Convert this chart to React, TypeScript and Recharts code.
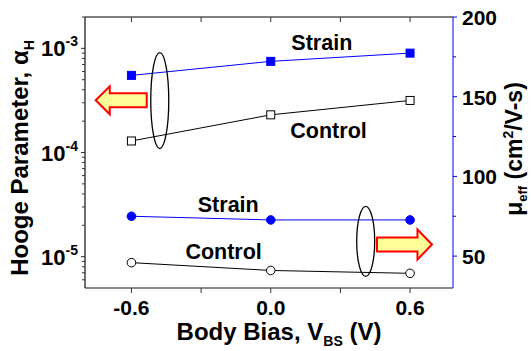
import { ComposedChart, Line, XAxis, YAxis, ReferenceDot, Label } from 'recharts';

const bias = [-0.6, 0, 0.6];
const alphaStrain = [5.5e-4, 7.5e-4, 9.0e-4];
const alphaControl = [1.29e-4, 2.3e-4, 3.16e-4];
const muStrain = [75, 72.7, 72.7];
const muControl = [45.9, 41, 39.2];

const xTicks = [-0.6, -0.3, 0, 0.3, 0.6];
const xMajor = ['-0.6', '0.0', '0.6'];
const alphaTicks = [
  6e-6, 7e-6, 8e-6, 9e-6, 1e-5, 2e-5, 3e-5, 4e-5, 5e-5, 6e-5, 7e-5, 8e-5, 9e-5,
  1e-4, 2e-4, 3e-4, 4e-4, 5e-4, 6e-4, 7e-4, 8e-4, 9e-4, 1e-3, 2e-3,
];
const alphaMajor = [1e-5, 1e-4, 1e-3];
const muTicks = [50, 75, 100, 125, 150, 175, 200];
const muMajor = [50, 100, 150, 200];

const data = bias.map((b, i) => ({
  bias: b,
  alphaStrain: alphaStrain[i],
  alphaControl: alphaControl[i],
  muStrain: muStrain[i],
  muControl: muControl[i],
}));

const FONT = "Arial, 'Liberation Sans', Helvetica, sans-serif";
const BLUE = '#0000ff';

const isMajorAlpha = (v: number) => alphaMajor.some(m => Math.abs(v - m) / m < 1e-6);

const AlphaTick = ({ x, y, payload }: any) => {
  const v = payload.value as number;
  const major = isMajorAlpha(v);
  const len = major ? 4 : 3;
  return (
    <g>
      <line x1={x - len} x2={x} y1={y} y2={y} stroke="#333" />
      {major && (
        <text x={x - 7} y={y + 8} textAnchor="end" fontFamily={FONT} fontWeight="bold" fontSize={22} fill="#000">
          <tspan>10</tspan>
          <tspan dy={-10} fontSize={14}>{Math.round(Math.log10(v))}</tspan>
        </text>
      )}
    </g>
  );
};

const MuTick = ({ x, y, payload }: any) => {
  const v = payload.value as number;
  const major = muMajor.includes(v);
  return (
    <g>
      <line x1={x} x2={x + (major ? 4 : 3)} y1={y} y2={y} stroke={BLUE} />
      {major && (
        <text x={x + 9} y={y + 8} fontFamily={FONT} fontWeight="bold" fontSize={21} fill="#000">
          {v}
        </text>
      )}
    </g>
  );
};

const BiasTick = ({ x, y, payload }: any) => {
  const s = (payload.value as number).toFixed(1);
  const lbl = s === '-0.0' ? '0.0' : s;
  return (
    <g>
      <line x1={x} x2={x} y1={y} y2={y + 5} stroke="#333" />
      {xMajor.includes(lbl) && (
        <text x={x} y={y + 27} textAnchor="middle" fontFamily={FONT} fontWeight="bold" fontSize={21} fill="#000">
          {lbl}
        </text>
      )}
    </g>
  );
};

// ticks on the top frame line point down into the plot
const TopTick = ({ x, y }: any) => <line x1={x} x2={x} y1={y} y2={y + 5} stroke="#333" />;

const SquareDot = (fill: string, stroke: string) => ({ cx, cy, index }: any) => (
  <rect key={index} x={cx - 4} y={cy - 4} width={8} height={8} fill={fill} stroke={stroke} strokeWidth={1} />
);
const CircleDot = (fill: string, stroke: string) => ({ cx, cy, index }: any) => (
  <circle key={index} cx={cx} cy={cy} r={4.3} fill={fill} stroke={stroke} strokeWidth={1} />
);

const Ellipse = (rx: number, ry: number) => ({ cx, cy }: any) => (
  <ellipse cx={cx} cy={cy} rx={rx} ry={ry} fill="none" stroke="#000" strokeWidth={1.3} />
);

const Arrow = (dir: number, len: number, head: number, hh: number, bh: number) => ({ cx, cy }: any) => {
  const tip = cx + (dir * len) / 2;
  const tail = cx - (dir * len) / 2;
  const base = tip - dir * head;
  const pts = [
    [tip, cy], [base, cy - hh], [base, cy - bh], [tail, cy - bh],
    [tail, cy + bh], [base, cy + bh], [base, cy + hh],
  ].map(p => p.join(',')).join(' ');
  return <polygon points={pts} fill="#ffff99" stroke="#ff0000" strokeWidth={2} strokeLinejoin="miter" />;
};

const Note = (txt: string) => ({ cx, cy }: any) => (
  <text x={cx} y={cy + 8} textAnchor="middle" fontFamily={FONT} fontWeight="bold" fontSize={21.5} fill="#000">
    {txt}
  </text>
);

const LeftTitle = () => (
  <text transform="translate(28,158) rotate(-90)" textAnchor="middle" fontFamily={FONT} fontWeight="bold" fontSize={24} fill="#000">
    Hooge Parameter, α<tspan dy={6} fontSize={14}>H</tspan>
  </text>
);

const RightTitle = () => (
  <text transform="translate(522,149) rotate(-90)" textAnchor="middle" fontFamily={FONT} fontWeight="bold" fontSize={23} fill="#000">
    μ<tspan dy={5} fontSize={13}>eff</tspan>
    <tspan dy={-5}> (cm</tspan>
    <tspan dy={-9} fontSize={14}>2</tspan>
    <tspan dy={9}>/V-s)</tspan>
  </text>
);

const BottomTitle = () => (
  <text x={279} y={340} textAnchor="middle" fontFamily={FONT} fontWeight="bold" fontSize={24} fill="#000">
    Body Bias, V<tspan dy={6} fontSize={14}>BS</tspan>
    <tspan dy={-6}> (V)</tspan>
  </text>
);

export default function App() {
  return (
    <div style={{ position: 'absolute', left: 0, top: 0, background: '#fff' }}>
      <ComposedChart width={531} height={351} data={data} margin={{ top: 16, right: 0, bottom: 0, left: 0 }}>
        <XAxis
          dataKey="bias"
          type="number"
          domain={[-0.8, 0.785]}
          allowDataOverflow
          ticks={xTicks}
          tick={<BiasTick />}
          tickLine={false}
          tickSize={0}
          tickMargin={0}
          axisLine={{ stroke: '#666', strokeWidth: 1.6 }}
          height={63}
          interval={0}
        >
          <Label content={<BottomTitle />} />
        </XAxis>
        <XAxis
          xAxisId="top"
          dataKey="bias"
          type="number"
          orientation="top"
          domain={[-0.8, 0.785]}
          allowDataOverflow
          ticks={xTicks}
          tick={<TopTick />}
          tickLine={false}
          tickSize={0}
          tickMargin={0}
          axisLine={{ stroke: '#555', strokeWidth: 1.3 }}
          height={1}
          interval={0}
        />
        <YAxis
          yAxisId="left"
          scale="log"
          domain={[5e-6, 2e-3]}
          allowDataOverflow
          ticks={alphaTicks}
          tick={<AlphaTick />}
          tickLine={false}
          tickSize={0}
          tickMargin={0}
          axisLine={{ stroke: '#222', strokeWidth: 1.3 }}
          width={85}
          interval={0}
        >
          <Label content={<LeftTitle />} />
        </YAxis>
        <YAxis
          yAxisId="right"
          orientation="right"
          domain={[30, 200]}
          allowDataOverflow
          ticks={muTicks}
          tick={<MuTick />}
          tickLine={false}
          tickSize={0}
          tickMargin={0}
          axisLine={{ stroke: BLUE }}
          width={78}
          interval={0}
        >
          <Label content={<RightTitle />} />
        </YAxis>

        <Line yAxisId="left" dataKey="alphaStrain" stroke={BLUE} strokeWidth={1} dot={SquareDot(BLUE, BLUE)} isAnimationActive={false} />
        <Line yAxisId="left" dataKey="alphaControl" stroke="#000" strokeWidth={1} dot={SquareDot('#fff', '#000')} isAnimationActive={false} />
        <Line yAxisId="right" dataKey="muStrain" stroke={BLUE} strokeWidth={1} dot={CircleDot(BLUE, BLUE)} isAnimationActive={false} />
        <Line yAxisId="right" dataKey="muControl" stroke="#000" strokeWidth={1} dot={CircleDot('#fff', '#000')} isAnimationActive={false} />

        <ReferenceDot yAxisId="right" x={-0.478} y={147.6} shape={Ellipse(9, 48)} ifOverflow="visible" />
        <ReferenceDot yAxisId="right" x={0.409} y={59.2} shape={Ellipse(9, 35)} ifOverflow="visible" />
        <ReferenceDot yAxisId="right" x={-0.644} y={147.75} shape={Arrow(-1, 51, 14, 14, 7)} ifOverflow="visible" />
        <ReferenceDot yAxisId="right" x={0.576} y={57.3} shape={Arrow(1, 55, 14.5, 15, 7)} ifOverflow="visible" />
        <ReferenceDot yAxisId="right" x={0.22} y={184.2} shape={Note('Strain')} ifOverflow="visible" />
        <ReferenceDot yAxisId="right" x={0.249} y={129.2} shape={Note('Control')} ifOverflow="visible" />
        <ReferenceDot yAxisId="right" x={-0.183} y={82.8} shape={Note('Strain')} ifOverflow="visible" />
        <ReferenceDot yAxisId="right" x={-0.203} y={53.1} shape={Note('Control')} ifOverflow="visible" />
      </ComposedChart>
    </div>
  );
}
